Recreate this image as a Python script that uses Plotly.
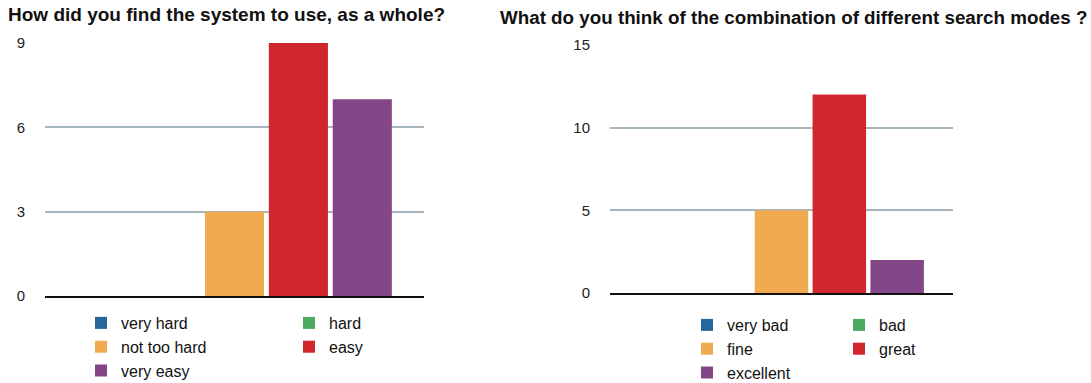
import plotly.graph_objects as go

W, H = 1091, 383

left_title = "How did you find the system to use, as a whole?"
left_categories = ["very hard", "hard", "not too hard", "easy", "very easy"]
left_values = [0, 0, 3, 9, 7]
left_ticks = [0, 3, 6, 9]

right_title = "What do you think of the combination of different search modes ?"
right_categories = ["very bad", "bad", "fine", "great", "excellent"]
right_values = [0, 0, 5, 12, 2]
right_ticks = [0, 5, 10, 15]

colors = ["#23679c", "#4caa5c", "#f0aa50", "#d0262e", "#834686"]

FONT = "Liberation Sans, Arial, sans-serif"

fig = go.Figure()

left_legends = ["legend", "legend2", "legend", "legend2", "legend"]
right_legends = ["legend3", "legend4", "legend3", "legend4", "legend3"]

for name, val, col, lg in zip(left_categories, left_values, colors, left_legends):
    fig.add_trace(go.Bar(x=["q1"], y=[val], name=name, marker_color=col,
                         marker_line_width=0, xaxis="x", yaxis="y", legend=lg))
for name, val, col, lg in zip(right_categories, right_values, colors, right_legends):
    fig.add_trace(go.Bar(x=["q2"], y=[val], name=name, marker_color=col,
                         marker_line_width=0, xaxis="x2", yaxis="y2", legend=lg))


def px_x(p):
    return p / W


def px_y(p):
    return (H - p) / H


grid = "#a7b6be"
axis_common = dict(showgrid=True, gridcolor=grid, gridwidth=1.5, zeroline=False,
                   ticks="", ticklabelstandoff=19,
                   tickfont=dict(family=FONT, size=15, color="#222"))
xaxis_common = dict(showticklabels=False, showgrid=False, zeroline=False,
                    showline=True, linecolor="#111", linewidth=2, ticks="")

legend_common = dict(orientation="v", xanchor="left", yanchor="top",
                     bgcolor="rgba(0,0,0,0)", borderwidth=0,
                     font=dict(family=FONT, size=16, color="#111"),
                     traceorder="normal")

fig.update_layout(
    width=W, height=H,
    margin=dict(l=0, r=0, t=0, b=0, autoexpand=False),
    paper_bgcolor="white", plot_bgcolor="white",
    barmode="group", bargap=0.157, bargroupgap=0.075,
    xaxis=dict(domain=[px_x(45), px_x(424)], anchor="y", **xaxis_common),
    yaxis=dict(domain=[px_y(296), px_y(43)], range=[0, 9], tickvals=left_ticks,
               anchor="x", **axis_common),
    xaxis2=dict(domain=[px_x(610), px_x(953)], anchor="y2", **xaxis_common),
    yaxis2=dict(domain=[px_y(293), px_y(45)], range=[0, 15], tickvals=right_ticks,
                anchor="x2", **axis_common),
    legend=dict(x=px_x(81), y=px_y(306), **legend_common),
    legend2=dict(x=px_x(289), y=px_y(306), **legend_common),
    legend3=dict(x=px_x(687), y=px_y(308), **legend_common),
    legend4=dict(x=px_x(839), y=px_y(308), **legend_common),
    annotations=[
        dict(text="<b>" + left_title + "</b>", x=px_x(6), y=px_y(15), xref="paper", yref="paper",
             xanchor="left", yanchor="middle", showarrow=False,
             font=dict(family=FONT, size=19, color="#111")),
        dict(text="<b>" + right_title + "</b>", x=px_x(498), y=px_y(17), xref="paper", yref="paper",
             xanchor="left", yanchor="middle", showarrow=False,
             font=dict(family=FONT, size=18.8, color="#111")),
    ],
)

fig.write_html("out.html", config={"displayModeBar": False},
               post_script="document.body.style.margin='0';")
